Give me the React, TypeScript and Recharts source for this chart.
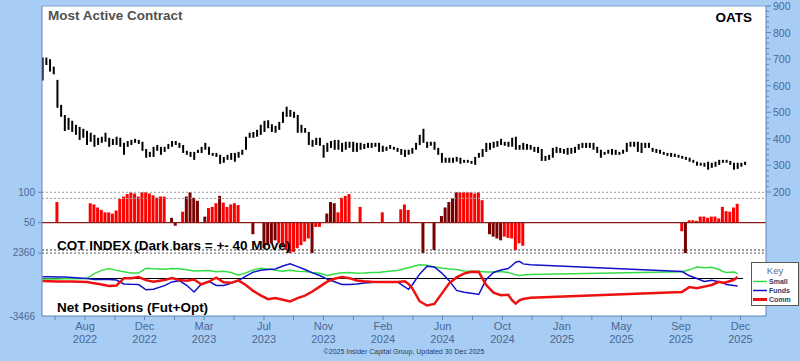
import React from 'react';
import { ComposedChart, Bar, Line, XAxis, YAxis, CartesianGrid, ReferenceLine, Cell } from 'recharts';

// ---- price (weekly high / low), index = week number ----
const priceHigh = [
  706, 706, 700, 672, 622, 528, 490, 479, 468, 453,
  445, 438, 430, 423, 415, 404, 408, 423, 404, 400,
  408, 404, 385, 392, 396, 400, 396, 389, 362, 351,
  370, 377, 370, 370, 381, 392, 392, 385, 377, 355,
  351, 351, 359, 370, 385, 370, 347, 347, 340, 332,
  340, 347, 347, 351, 359, 408, 423, 426, 434, 453,
  468, 470, 455, 449, 464, 502, 521, 509, 502, 490,
  453, 441, 426, 396, 404, 404, 377, 385, 392, 396,
  396, 385, 389, 389, 389, 385, 385, 381, 385, 385,
  385, 385, 374, 370, 377, 370, 366, 362, 359, 359,
  366, 385, 415, 438, 389, 389, 389, 366, 347, 329,
  329, 329, 332, 329, 321, 321, 317, 332, 347, 362,
  385, 385, 389, 392, 400, 389, 389, 404, 408, 377,
  385, 381, 377, 370, 370, 362, 336, 340, 366, 370,
  366, 362, 366, 366, 370, 381, 385, 385, 385, 385,
  370, 359, 351, 359, 362, 359, 351, 359, 385, 389,
  389, 389, 385, 385, 385, 366, 362, 359, 351, 347,
  347, 344, 340, 336, 332, 329, 321, 314, 310, 310,
  314, 310, 314, 321, 321, 321, 317, 310, 310, 310,
  314,
];
const priceLow = [
  620, 678, 653, 643, 517, 483, 430, 434, 426, 415,
  396, 404, 377, 389, 370, 377, 385, 389, 370, 377,
  377, 370, 340, 370, 377, 385, 381, 355, 329, 332,
  332, 355, 340, 351, 362, 370, 377, 366, 347, 340,
  332, 321, 347, 347, 359, 340, 336, 332, 306, 310,
  321, 321, 314, 329, 340, 359, 404, 404, 408, 415,
  426, 440, 426, 423, 434, 460, 483, 483, 479, 423,
  423, 423, 377, 370, 377, 374, 329, 351, 366, 359,
  359, 351, 359, 366, 351, 351, 359, 362, 366, 366,
  370, 351, 351, 355, 362, 359, 351, 340, 332, 340,
  344, 359, 377, 385, 366, 374, 359, 340, 310, 310,
  310, 310, 314, 306, 310, 310, 306, 302, 329, 332,
  351, 359, 366, 370, 377, 374, 370, 370, 359, 359,
  359, 359, 359, 351, 347, 317, 317, 321, 329, 347,
  347, 344, 340, 344, 347, 359, 366, 366, 366, 359,
  347, 329, 340, 344, 340, 340, 340, 344, 351, 370,
  370, 351, 347, 366, 366, 351, 347, 344, 340, 336,
  332, 332, 329, 325, 321, 314, 310, 299, 299, 295,
  284, 291, 295, 302, 310, 310, 302, 284, 287, 295,
  302,
];

// ---- COT index ----
const cotWeeks = [4, 13, 14, 15, 16, 17, 18, 19, 20, 21, 22, 23, 24, 25, 26, 27, 28, 29, 30, 31, 32, 33, 35, 36, 38, 39, 40, 41, 42, 44, 45, 46, 47, 48, 49, 50, 51, 52, 53, 57, 60, 61, 62, 63, 64, 65, 66, 67, 68, 69, 70, 71, 72, 73, 74, 75, 77, 78, 79, 80, 81, 82, 83, 86, 92, 97, 98, 99, 103, 106, 108, 109, 110, 111, 112, 113, 114, 115, 116, 117, 118, 119, 121, 122, 123, 124, 125, 126, 127, 128, 129, 130, 173, 174, 175, 176, 177, 178, 179, 180, 181, 182, 183, 184, 185, 186, 187, 188];
const cotValues = [84, 82, 80, 75, 71, 67, 67, 65, 70, 89, 93, 97, 100, 98, 93, 100, 100, 98, 95, 91, 93, 93, 58, 45, 68, 93, 100, 91, 86, 60, 74, 76, 82, 94, 83, 76, 80, 82, 79, 31, 8, 13, 16, 21, 16, 10, 5, 0, 2, 8, 13, 19, 24, 0, 43, 43, 65, 84, 82, 67, 91, 94, 97, 76, 67, 72, 80, 71, 0, 5, 61, 75, 84, 90, 100, 100, 100, 100, 100, 98, 100, 87, 31, 27, 24, 21, 27, 25, 24, 5, 16, 12, 36, 0, 54, 54, 53, 60, 60, 58, 60, 60, 57, 76, 69, 68, 75, 81];
const cotDark = [
  0,
  0, 0, 0, 0, 0, 0, 0, 0, 0, 0, 0, 0, 0, 0, 0, 0, 0, 0, 0, 0, 0,
  1, 1,
  0, 1, 1, 1, 1,
  1, 0, 0, 0, 1, 0, 0, 0, 0, 0,
  1,
  1, 1, 1, 1, 0, 0, 0, 0, 0, 0, 0, 0, 0, 1, 0, 0,
  1, 1, 1, 0, 0, 0, 0,
  0,
  0,
  0, 0, 0,
  1,
  1,
  1, 1, 1, 1, 1, 0, 0, 0, 0, 0, 0, 0,
  1, 1, 1, 1, 0, 0, 0, 0, 0, 0,
  0, 1, 0, 0, 0, 0, 0, 0, 0, 0, 0, 0, 0, 0, 0, 0,
];

// ---- Net positions (Fut+Opt) ----
const netWeeks = [0, 2, 4, 6, 8, 10, 12, 14, 16, 18, 20, 22, 24, 26, 28, 30, 33, 35, 37, 39, 41, 43, 45, 47, 49, 51, 53, 55, 57, 59, 61, 63, 65, 67, 69, 71, 73, 75, 77, 79, 81, 83, 85, 87, 89, 91, 93, 96, 98, 99, 100, 102, 104, 106, 108, 110, 112, 114, 116, 118, 120, 122, 124, 126, 127, 128, 129, 130, 132, 173, 175, 177, 179, 181, 183, 184, 185, 187, 188];
const smallNet = [
  -50, -50, -40, -30, -30, -20, -10, 450, 750, 920, 750, 620, 500, 500, 950, 900,
  850, 920, 910, 800, 700, 720, 730, 620, 660, 550, 300, 520, 780, 950, 880, 760, 670, 750, 670, 640, 550, 480, 280, 420, 540, 550, 480, 500, 550, 550, 640,
  740, 920, 1000, 1080,
  1260, 1230, 1060, 960, 880, 830, 700, 670, 660, 610, 600, 640,
  560, 450, 350, 280, 330, 370,
  620, 800, 1064, 1000, 1030, 830, 650, 546, 600, 453,
];
const fundsNet = [
  150, 150, 140, 130, 80, 40, 0, -100, -100, -100, -150, -500, -540, -560, -1050, -990,
  -660, -320, -200, -630, -1250, -500, -260, -650, -650, -450, -200, 220, 590, 760, 830, 880, 1150, 1350, 1100, 830, 520, 280, -60, -300, -550, -564, -500, -420, -360, -330, -324,
  -324, -786, -999, -600,
  400, 1130, 1064, 500, -200, -1100, -1280, -1360, -1480, -100, 550, 780,
  920, 1200, 1500, 1590, 1350, 1280,
  640, 250, 0, -280, -166, -300, -400, -550, -650, -700,
];
const commNet = [
  -240, -260, -270, -280, -290, -310, -324, -440, -560, -690, -650, 20, 30, 139, -150, -300,
  -150, 40, -130, -200, -100, -550, -300, 80, -350, -400, -170, -600, -1150, -1560, -1910, -1800, -1960, -2120, -1820, -1590, -1200, -750, -290, -30, 130, 30, -190, -260, -310, -324, -324,
  -324, -259, -500, -900,
  -2100, -2500, -2350, -1400, -450, 100, 450, 620, 600, -600, -1300, -1550,
  -1500, -2000, -2320, -2020, -1900, -1780,
  -1240, -790, -900, -750, -600, -300, -400, -350, -120, 139,
];

// ---- axis ticks ----
const tickWeeks = [3.4, 11.5, 19.6, 27.6, 35.7, 43.7, 51.8, 59.9, 67.9, 76.0, 84.1, 92.1, 100.2, 108.2, 116.3, 124.4, 132.4, 140.5, 148.6, 156.6, 164.7, 172.7, 180.8, 188.8];
const tickMonths = ['', 'Aug', '', 'Dec', '', 'Mar', '', 'Jul', '', 'Nov', '', 'Feb', '', 'Jun', '', 'Oct', '', 'Jan', '', 'May', '', 'Sep', '', 'Dec'];
const tickYears = ['', '2022', '', '2022', '', '2023', '', '2023', '', '2023', '', '2024', '', '2024', '', '2024', '', '2025', '', '2025', '', '2025', '', '2025'];
const priceTicks = [200, 220, 240, 260, 280, 300, 320, 340, 360, 380, 400, 420, 440, 460, 480, 500, 520, 540, 560, 580, 600, 620, 640, 660, 680, 700, 720, 740, 760, 780, 800, 820, 840, 860, 880, 900];
const cotTicks = [0, 50, 100];

const BG = '#A8CDF5';
const AXIS = '#5F86B8';
const LABEL = '#4A6892';
const FONT = '"Liberation Sans", Arial, sans-serif';
const RED = '#FF0000';
const DARK = '#7A0000';
const X_DOMAIN: [number, number] = [-0.135, 195.7];

const rows = priceHigh.map((h, i) => {
  const row: any = { week: i, hl: [priceLow[i], h] };
  const c = cotWeeks.indexOf(i);
  if (c >= 0) {
    const v = cotValues[c];
    row.cot = [Math.min(50, v), Math.max(50, v)];
    row.dark = cotDark[c] === 1;
  }
  const n = netWeeks.indexOf(i);
  if (n >= 0) {
    row.small = smallNet[n];
    row.funds = fundsNet[n];
    row.comm = commNet[n];
  }
  return row;
});

const XTick = (props: any) => {
  const { x, y, payload } = props;
  const k = tickWeeks.indexOf(payload.value);
  if (k < 0 || !tickMonths[k]) return <g />;
  return (
    <g>
      <text x={x} y={y + 7.5} textAnchor="middle" fill={LABEL} fontSize={11} fontFamily={FONT}>{tickMonths[k]}</text>
      <text x={x} y={y + 20.5} textAnchor="middle" fill={LABEL} fontSize={11} fontFamily={FONT}>{tickYears[k]}</text>
    </g>
  );
};

const PriceTick = (props: any) => {
  const { x, y, payload } = props;
  const v = payload.value;
  const major = v % 100 === 0;
  const ax = x - 7;
  return (
    <g>
      <line x1={ax} y1={y} x2={ax + (major ? 5 : 3)} y2={y} stroke={AXIS} strokeWidth={1} />
      {major ? (
        <text x={x} y={y + 4} textAnchor="start" fill={LABEL} fontSize={10.5} fontFamily={FONT}>{v}</text>
      ) : null}
    </g>
  );
};

export default function App() {
  return (
    <div style={{ position: 'fixed', left: 0, top: 0, width: 800, height: 361, background: BG, fontFamily: FONT, overflow: 'hidden' }}>
      <div style={{ position: 'absolute', left: 0, top: 0 }}>
        <ComposedChart width={800} height={361} data={rows} margin={{ top: 6, right: 0, bottom: 0, left: 0 }}>
          <CartesianGrid fill="#FFFFFF" stroke="none" />
          <XAxis
            dataKey="week"
            type="number"
            domain={X_DOMAIN}
            allowDataOverflow
            ticks={tickWeeks}
            interval={0}
            height={45}
            tick={<XTick />}
            tickSize={4}
            tickMargin={2}
            stroke={AXIS}
            axisLine={{ stroke: AXIS }}
            tickLine={{ stroke: AXIS }}
          />
          <XAxis xAxisId="cot" dataKey="week" type="number" domain={X_DOMAIN} allowDataOverflow hide />
          <YAxis
            type="number"
            domain={[-103.5, 406.4]}
            allowDataOverflow
            ticks={cotTicks}
            interval={0}
            width={42}
            tickSize={4}
            tickMargin={3}
            stroke={AXIS}
            tickFormatter={(v: number) => (v === 0 ? '' : String(v))}
            tick={{ fill: LABEL, fontSize: 10, fontFamily: FONT }}
          />
          <YAxis
            yAxisId="price"
            orientation="right"
            type="number"
            domain={[-266.7, 900]}
            allowDataOverflow
            ticks={priceTicks}
            interval={0}
            width={34}
            tickSize={5}
            tickMargin={2}
            tickLine={false}
            stroke={AXIS}
            tick={<PriceTick />}
          />
          <YAxis yAxisId="net" type="number" domain={[-3466, 25175]} allowDataOverflow hide />

          <ReferenceLine y={406.4} stroke="#7FA3CF" />
          <ReferenceLine y={100} stroke="#999999" strokeDasharray="2 2" />
          <ReferenceLine y={90} stroke="#999999" strokeDasharray="2 2" />
          <ReferenceLine y={5} stroke="#333333" strokeDasharray="2 2" />
          <ReferenceLine y={0} stroke="#555555" strokeDasharray="2 2" />
          <ReferenceLine
            yAxisId="net"
            y={2360}
            stroke="none"
            label={{ value: '2360', position: 'left', offset: 7, fill: LABEL, fontSize: 10, fontFamily: FONT }}
          />
          <ReferenceLine
            yAxisId="net"
            y={-3466}
            stroke="none"
            label={{ value: '-3466', position: 'left', offset: 7, fill: LABEL, fontSize: 10, fontFamily: FONT }}
          />

          <Bar xAxisId="cot" dataKey="cot" barSize={3} isAnimationActive={false}>
            {rows.map((r, i) => (
              <Cell key={`c${i}`} fill={r.dark ? DARK : RED} />
            ))}
          </Bar>
          <ReferenceLine y={50} stroke="#8B1A1A" strokeWidth={1.2} />

          <Bar yAxisId="price" dataKey="hl" barSize={2} fill="#000000" isAnimationActive={false} />

          <ReferenceLine yAxisId="net" segment={[{ x: -0.135, y: 0 }, { x: 189.5, y: 0 }]} stroke="#000000" />
          <Line yAxisId="net" dataKey="small" type="linear" stroke="#33DD44" strokeWidth={1.5} dot={false} activeDot={false} connectNulls isAnimationActive={false} />
          <Line yAxisId="net" dataKey="funds" type="linear" stroke="#1111CC" strokeWidth={1.5} dot={false} activeDot={false} connectNulls isAnimationActive={false} />
          <Line yAxisId="net" dataKey="comm" type="linear" stroke="#EE1111" strokeWidth={2.5} dot={false} activeDot={false} connectNulls isAnimationActive={false} />
        </ComposedChart>
      </div>
      <svg width={800} height={361} style={{ position: 'absolute', left: 0, top: 0, pointerEvents: 'none' }}>
        <text x={48} y={19.5} fontSize={13.5} fontWeight="bold" fill="#505050" fontFamily={FONT}>Most Active Contract</text>
        <text x={752} y={21.5} fontSize={13.5} fontWeight="bold" fill="#000000" textAnchor="end" fontFamily={FONT}>OATS</text>
        <text x={57} y={249.5} fontSize={13.5} fontWeight="bold" fill="#000000" fontFamily={FONT}>COT INDEX (Dark bars = +- 40 Move)</text>
        <text x={57} y={311.5} fontSize={13.5} fontWeight="bold" fill="#000000" fontFamily={FONT}>Net Positions (Fut+Opt)</text>
        <text x={404} y={354} fontSize={7} fill="#2A3A5A" textAnchor="middle" fontFamily={FONT}>©2025 Insider Capital Group, Updated 30 Dec 2025</text>
        <g>
          <rect x={751.5} y={262.5} width={47} height={43} fill="#FFFFFF" stroke="#555555" />
          <text x={775} y={274} fontSize={9.5} fill="#5A7090" textAnchor="middle" fontFamily={FONT}>Key</text>
          <line x1={753} y1={281.5} x2={767} y2={281.5} stroke="#33DD44" strokeWidth={1.5} />
          <line x1={753} y1={290.5} x2={767} y2={290.5} stroke="#1111CC" strokeWidth={1.5} />
          <line x1={753} y1={299.5} x2={767} y2={299.5} stroke="#EE1111" strokeWidth={3} />
          <text x={769} y={284} fontSize={7} fontWeight="bold" fill="#2A3F6A" fontFamily={FONT}>Small</text>
          <text x={769} y={293} fontSize={7} fontWeight="bold" fill="#2A3F6A" fontFamily={FONT}>Funds</text>
          <text x={769} y={302} fontSize={7} fontWeight="bold" fill="#2A3F6A" fontFamily={FONT}>Comm</text>
        </g>
      </svg>
    </div>
  );
}
